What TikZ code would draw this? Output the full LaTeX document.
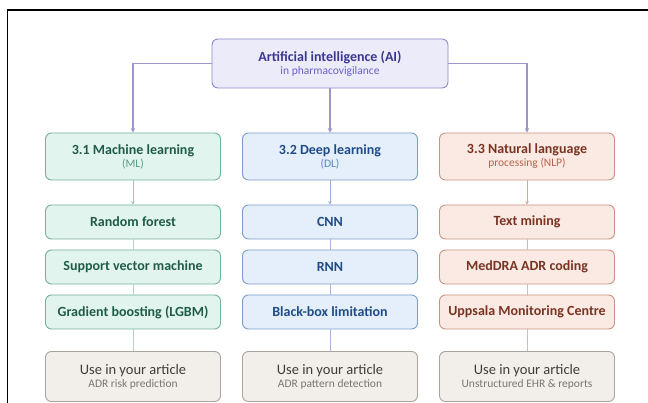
\documentclass[tikz,border=0pt]{standalone}
\usepackage{fontspec}
\setmainfont{Carlito}
\usetikzlibrary{arrows.meta}
\definecolor{aifill}{HTML}{ECEBFA}
\definecolor{aidraw}{HTML}{8E88CC}
\definecolor{aitext}{HTML}{3C3790}
\definecolor{aisub}{HTML}{6A62C6}
\definecolor{ailine}{HTML}{9C97C8}
\definecolor{mlfill}{HTML}{E2F4EE}
\definecolor{mldraw}{HTML}{72B29A}
\definecolor{mltext}{HTML}{1F5C49}
\definecolor{mlsub}{HTML}{5C9C84}
\definecolor{dlfill}{HTML}{E5EFFB}
\definecolor{dldraw}{HTML}{7C9DC8}
\definecolor{dltext}{HTML}{1F4C86}
\definecolor{dlsub}{HTML}{5A86C2}
\definecolor{nlfill}{HTML}{FBEAE3}
\definecolor{nldraw}{HTML}{C99381}
\definecolor{nltext}{HTML}{7A3322}
\definecolor{nlsub}{HTML}{B3644C}
\definecolor{usefill}{HTML}{F2EFEA}
\definecolor{usedraw}{HTML}{A9A49D}
\definecolor{usetext}{HTML}{3F3D3A}
\definecolor{usesub}{HTML}{7A7773}
\tikzset{
  box/.style={rounded corners=6pt, line width=0.9pt, minimum width=175pt, align=center, inner sep=0pt},
  catbox/.style={box, minimum height=47pt},
  itembox/.style={box, minimum height=34pt, font=\fontsize{14}{16}\selectfont\bfseries},
  usebox/.style={box, minimum height=50pt, fill=usefill, draw=usedraw, text=usetext},
  mlb/.style={fill=mlfill, draw=mldraw, text=mltext},
  dlb/.style={fill=dlfill, draw=dldraw, text=dltext},
  nlb/.style={fill=nlfill, draw=nldraw, text=nltext},
  aiarr/.style={draw=ailine, line width=1.2pt, -{Stealth[length=4.5pt,width=4.5pt]}},
  colarr/.style={line width=0.9pt, -{Stealth[length=3.5pt,width=3.5pt]}},
  colline/.style={line width=0.9pt},
}
\newcommand{\ttlx}[1]{{\fontsize{14}{16}\selectfont\bfseries #1}}
\newcommand{\subt}[2]{{\fontsize{11.5}{13}\selectfont\color{#1}#2}}
\begin{document}
\begin{tikzpicture}[x=1pt,y=1pt]
\useasboundingbox (0,0) rectangle (648,403);
\fill[white] (0,0) rectangle (648,403);
\draw[line width=1.2pt] (7.5,0) -- (7.5,393) -- (648,393);

\node[box, minimum width=236pt, minimum height=49pt, fill=aifill, draw=aidraw, text=aitext] (ai) at (330,339.5)
  {\ttlx{Artificial intelligence (AI)}\\[1pt]\subt{aisub}{in pharmacovigilance}};

\node[catbox, mlb] (ml) at (133,246.5) {\ttlx{3.1 Machine learning}\\[1pt]\subt{mlsub}{(ML)}};
\node[catbox, dlb] (dl) at (330,246.5) {\ttlx{3.2 Deep learning}\\[1pt]\subt{dlsub}{(DL)}};
\node[catbox, nlb] (nl) at (527,246.5) {\ttlx{3.3 Natural language}\\[1pt]\subt{nlsub}{processing (NLP)}};

\node[itembox, mlb] (ml1) at (133,181) {Random forest};
\node[itembox, mlb] (ml2) at (133,136) {Support vector machine};
\node[itembox, mlb] (ml3) at (133,91) {Gradient boosting (LGBM)};
\node[itembox, dlb] (dl1) at (330,181) {CNN};
\node[itembox, dlb] (dl2) at (330,136) {RNN};
\node[itembox, dlb] (dl3) at (330,91) {Black-box limitation};
\node[itembox, nlb] (nl1) at (527,181) {Text mining};
\node[itembox, nlb] (nl2) at (527,136) {MedDRA ADR coding};
\node[itembox, nlb] (nl3) at (527,91) {Uppsala Monitoring Centre};

\node[usebox] (ml4) at (133,26.5) {{\fontsize{14.5}{16}\selectfont Use in your article}\\[1pt]\subt{usesub}{ADR risk prediction}};
\node[usebox] (dl4) at (330,26.5) {{\fontsize{14.5}{16}\selectfont Use in your article}\\[1pt]\subt{usesub}{ADR pattern detection}};
\node[usebox] (nl4) at (527,26.5) {{\fontsize{14.5}{16}\selectfont Use in your article}\\[1pt]\subt{usesub}{Unstructured EHR \& reports}};

\draw[aiarr] (ai.west) -| (ml.north);
\draw[aiarr] (ai.south) -- (dl.north);
\draw[aiarr] (ai.east) -| (nl.north);

\draw[colarr, draw=mldraw!70] (ml.south) -- (ml1.north);
\draw[colarr, draw=dldraw!80] (dl.south) -- (dl1.north);
\draw[colarr, draw=nldraw!80] (nl.south) -- (nl1.north);
\draw[colline, draw=mldraw!55] (ml1.south) -- (ml2.north) (ml2.south) -- (ml3.north) (ml3.south) -- (ml4.north);
\draw[colline, draw=dldraw!70] (dl1.south) -- (dl2.north) (dl2.south) -- (dl3.north) (dl3.south) -- (dl4.north);
\draw[colline, draw=nldraw!65] (nl1.south) -- (nl2.north) (nl2.south) -- (nl3.north) (nl3.south) -- (nl4.north);
\end{tikzpicture}
\end{document}
